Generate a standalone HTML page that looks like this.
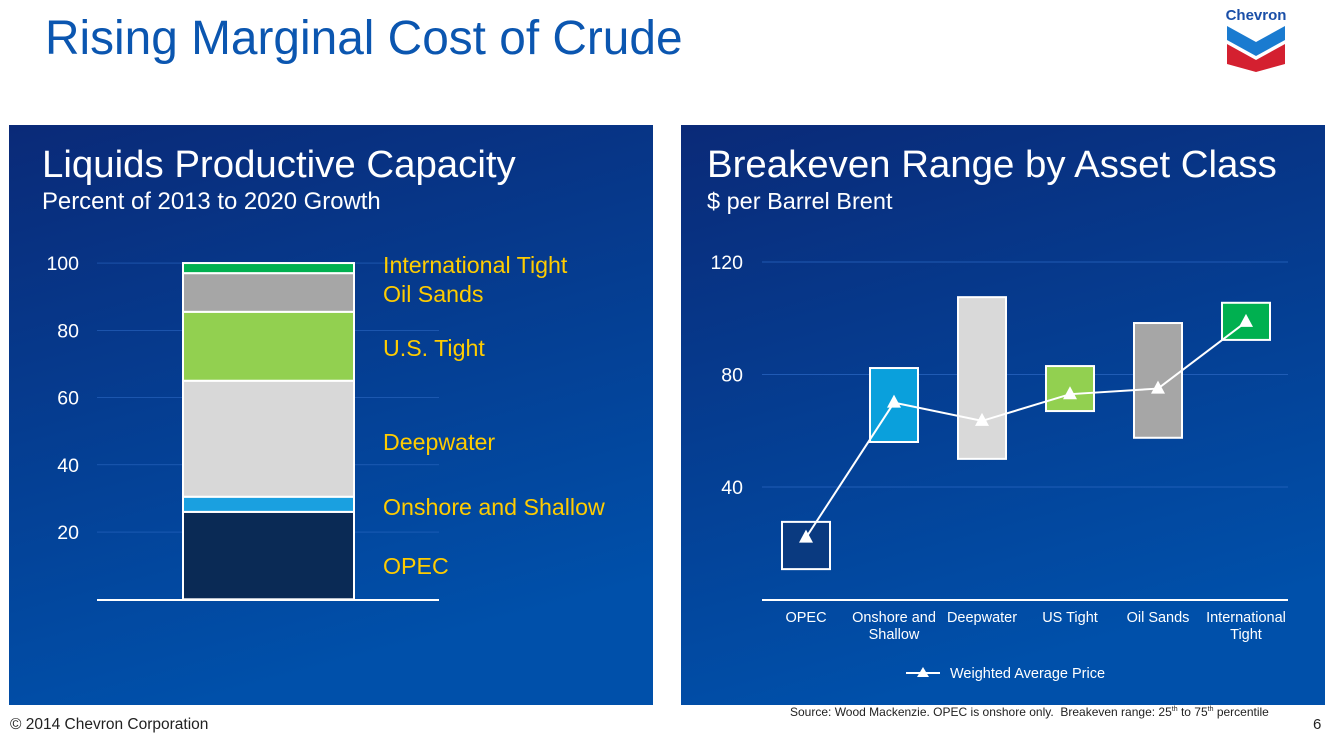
<!DOCTYPE html>
<html><head><meta charset="utf-8"><style>
body{margin:0;width:1338px;height:737px;background:#fff;position:relative;overflow:hidden;font-family:"Liberation Sans",sans-serif}
.t{position:absolute}
</style></head><body>
<div class="t" style="left:45px;top:11px;font-size:47.8px;color:#0b56b0">Rising Marginal Cost of Crude</div>
<svg class="t" style="left:1222px;top:4px" width="68" height="70" viewBox="0 0 68 70">
<text x="34" y="16" text-anchor="middle" font-family="Liberation Sans" font-weight="bold" font-size="15" fill="#1a4fa8">Chevron</text>
<polygon points="5,22 34,38 63,22 63,36 34,52 5,36" fill="#1a7bd0"/>
<polygon points="5,40 34,56 63,40 63,60 34,68 5,60" fill="#d42030"/>
</svg>
<svg class="t" style="left:0;top:0" width="1338" height="737">
<defs><linearGradient id="g" x1="0" y1="0" x2="0.3" y2="1"><stop offset="0" stop-color="#0a2a78"/><stop offset="1" stop-color="#0050aa"/></linearGradient></defs>
<rect x="9" y="125" width="644" height="580" fill="url(#g)"/>
<rect x="681" y="125" width="644" height="580" fill="url(#g)"/>
<text x="42" y="177" font-size="38.4" fill="#fff">Liquids Productive Capacity</text>
<text x="42" y="209" font-size="23.9" fill="#fff">Percent of 2013 to 2020 Growth</text>
<text x="707" y="177" font-size="38.4" fill="#fff">Breakeven Range by Asset Class</text>
<text x="707" y="209" font-size="23.5" fill="#fff">$ per Barrel Brent</text>
<g id="left"></g><g id="right"></g>
<line x1="906" y1="673" x2="940" y2="673" stroke="#fff" stroke-width="2"/>
<polygon points="923,667 917,677 929,677" fill="#fff"/>
<text x="950" y="678" font-size="14.5" fill="#fff">Weighted Average Price</text>
</svg>
<div class="t" style="left:10px;top:716px;font-size:15.5px;color:#222">© 2014 Chevron Corporation</div>
<div class="t" style="left:790px;top:705px;font-size:12px;color:#222">Source: Wood Mackenzie. OPEC is onshore only.&nbsp; Breakeven range: 25<sup style="font-size:7px">th</sup> to 75<sup style="font-size:7px">th</sup> percentile</div>
<div class="t" style="left:1313px;top:716px;font-size:15px;color:#222">6</div>
<script>
const NS='http://www.w3.org/2000/svg';
const leftCats=['OPEC','Onshore and Shallow','Deepwater','U.S. Tight','Oil Sands','International Tight'];
const leftVals=[26,4.5,34.5,20.5,11.5,3];
const leftColors=['#0a2a55','#1aa0e0','#d8d8d8','#92d050','#a6a6a6','#00b050'];
const leftLabelY=[566,507,442,348,294,265];
const leftTicks=[20,40,60,80,100];
const rightCats=['OPEC','Onshore and\nShallow','Deepwater','US Tight','Oil Sands','International\nTight'];
const rightLow=[10.8,56,50,67,57.5,92.3];
const rightHigh=[27.6,82.3,107.5,83,98.3,105.5];
const rightAvg=[22,70,63.5,73,75,98.7];
const rightColors=['#0a3a80','#0aa0dc','#d9d9d9','#92d050','#a6a6a6','#00b050'];
const rightTicks=[40,80,120];
function mk(p,t,a,txt){const e=document.createElementNS(NS,t);for(const k in a)e.setAttribute(k,a[k]);if(txt!=null)e.textContent=txt;p.appendChild(e);return e;}
const L=document.getElementById('left');
const ly=v=>599.3-v*3.3625;
leftTicks.forEach(t=>{
 const g=mk(L,'line',{x1:97,x2:439,y1:ly(t),y2:ly(t),stroke:'#2a66c0','stroke-width':0.7});
 
 
 const tx=mk(L,'text',{x:79,y:ly(t)+7,'font-size':19.5,fill:'#fff','text-anchor':'end'},t);
 
 
});
let cum=0;
leftVals.forEach((v,i)=>{
 const r=mk(L,'rect',{x:183,width:171,y:ly(cum+v),height:v*3.3625,fill:leftColors[i],stroke:'#fff','stroke-width':2});
 
 
 cum+=v;
 const tx=mk(L,'text',{x:383,y:leftLabelY[i]+8,'font-size':23.2,fill:'#ffcc00'},leftCats[i]);
 
 
});
const la=mk(L,'line',{x1:97,x2:439,y1:600,y2:600,stroke:'#fff','stroke-width':2});


const R=document.getElementById('right');
const ry=v=>599.5-v*2.8125;
const rx=i=>806+i*88;
rightTicks.forEach(t=>{
 const g=mk(R,'line',{x1:762,x2:1288,y1:ry(t),y2:ry(t),stroke:'#2a66c0','stroke-width':0.7});
 
 
 const tx=mk(R,'text',{x:743,y:ry(t)+7,'font-size':19.5,fill:'#fff','text-anchor':'end'},t);
 
 
});
rightCats.forEach((c,i)=>{
 const r=mk(R,'rect',{x:rx(i)-24,width:48,y:ry(rightHigh[i]),height:(rightHigh[i]-rightLow[i])*2.8125,fill:rightColors[i],stroke:'#fff','stroke-width':2});
 
 
 c.split('\n').forEach((s,j)=>{
  const tx=mk(R,'text',{x:rx(i),y:622+j*17,'font-size':14.5,fill:'#fff','text-anchor':'middle'},s);
  
  
 });
});
const pl=mk(R,'polyline',{points:rightAvg.map((v,i)=>rx(i)+','+ry(v)).join(' '),fill:'none',stroke:'#fff','stroke-width':2});


rightAvg.forEach((v,i)=>{
 const x=rx(i),y=ry(v);
 const m=mk(R,'polygon',{points:`${x},${y-8} ${x-7},${y+5} ${x+7},${y+5}`,fill:'#fff'});
 
 
});
const ra=mk(R,'line',{x1:762,x2:1288,y1:600,y2:600,stroke:'#fff','stroke-width':2});


</script>
</body></html>
